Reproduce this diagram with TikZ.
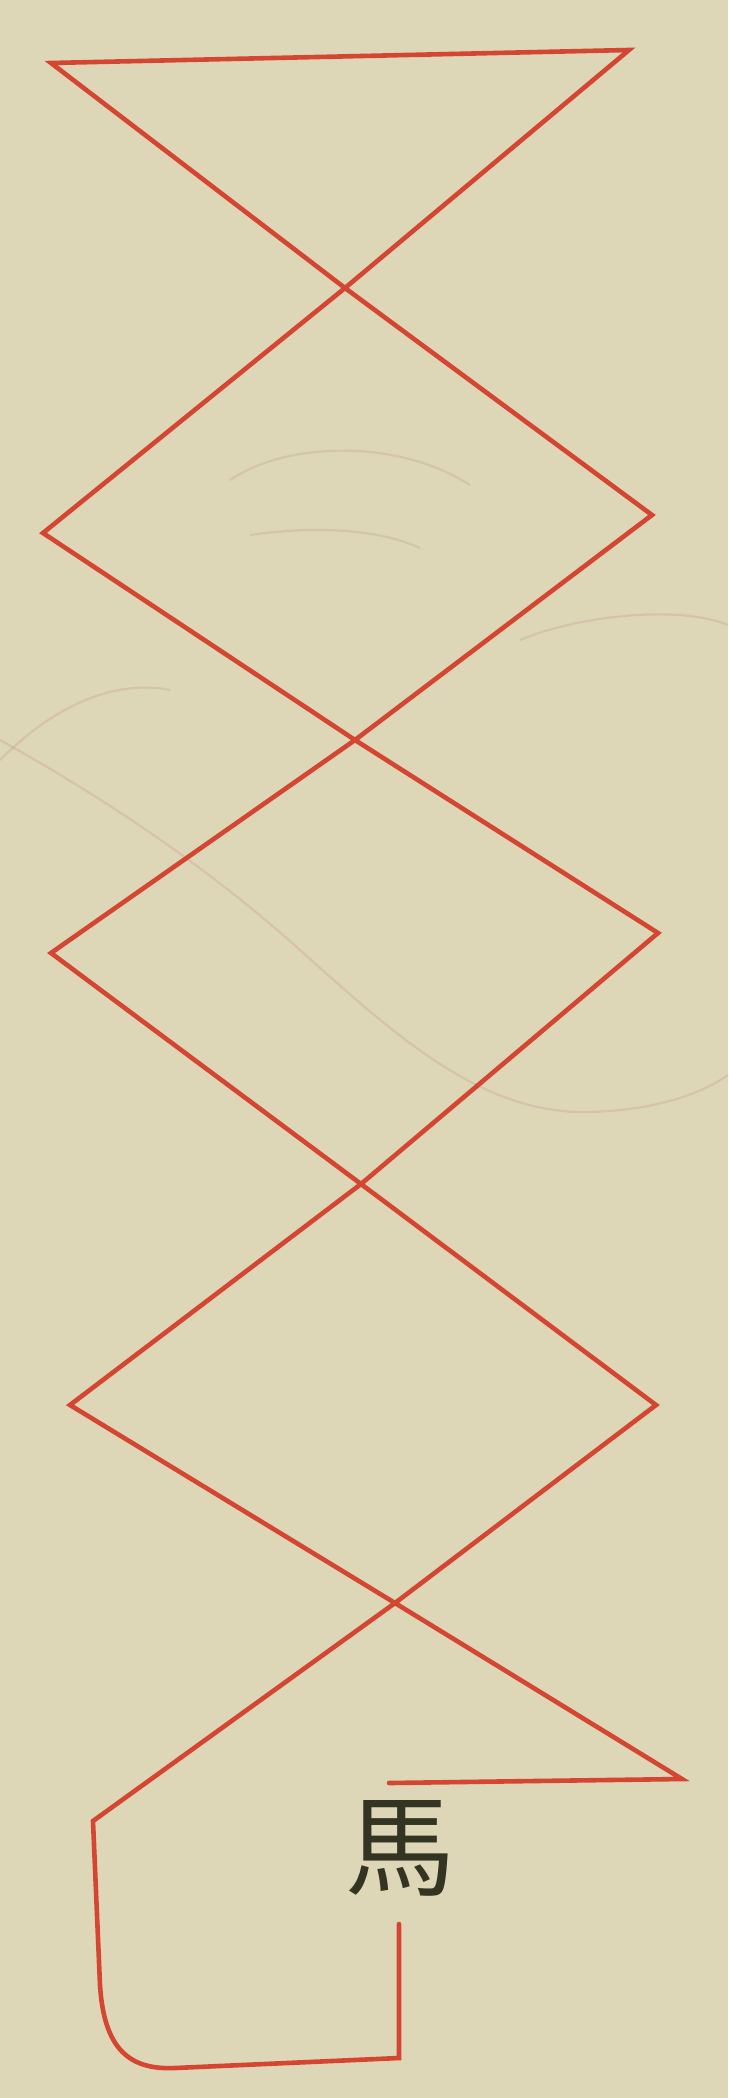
\documentclass[tikz,border=0pt]{standalone}
\usepackage{fontspec}
\newfontfamily\cjk{Noto Sans CJK TC}
\definecolor{paper}{RGB}{221,215,183}
\definecolor{ink}{RGB}{212,70,50}
\definecolor{blackink}{RGB}{52,52,34}
\definecolor{ghost}{RGB}{200,160,150}
\begin{document}
\begin{tikzpicture}[x=1pt,y=-1pt,
  redline/.style={draw=ink,line width=4.6pt,line join=miter,line cap=round},
  ghostline/.style={draw=ghost,line width=2.2pt,opacity=0.35},
  label/.style={text=blackink,font=\cjk\fontsize{110}{110}\selectfont,inner sep=0pt}]
\fill[paper] (0,0) rectangle (728,2098);
\useasboundingbox (0,0) rectangle (728,2098);
% faint bleed-through curves
\draw[ghostline] (0,740) .. controls (90,790) and (200,860) .. (300,950)
  .. controls (400,1040) and (480,1110) .. (580,1112)
  .. controls (650,1112) and (700,1095) .. (728,1075);
\draw[ghostline] (520,640) .. controls (580,615) and (680,605) .. (728,625);
\draw[ghostline] (230,480) .. controls (290,440) and (400,440) .. (470,485);
\draw[ghostline] (250,535) .. controls (320,525) and (380,530) .. (420,548);
\draw[ghostline] (0,760) .. controls (60,700) and (120,680) .. (170,690);
% named points
\coordinate (A) at (51,63);
\coordinate (B) at (629,50);
\coordinate (C1) at (345,288);
\coordinate (L1) at (43,533);
\coordinate (R1) at (652,515);
\coordinate (C2) at (355,740);
\coordinate (L2) at (51,953);
\coordinate (R2) at (658,933);
\coordinate (C3) at (361,1184);
\coordinate (L3) at (70,1405);
\coordinate (R3) at (656,1405);
\coordinate (C4) at (395,1603);
\coordinate (R4) at (682,1779);
\coordinate (H) at (389,1783);
\coordinate (LC) at (93,1821);
\coordinate (LB) at (100,1985);
\coordinate (BB) at (175,2068);
\coordinate (BR) at (399,2058);
\coordinate (TR) at (399,1924);
% the continuous red line
\draw[redline] (H) -- (R4) -- (C4) -- (L3) -- (C3) -- (R2) -- (C2) -- (L1)
  -- (C1) -- (B) -- (A) -- (C1) -- (R1) -- (C2) -- (L2) -- (C3) -- (R3)
  -- (C4) -- (LC) -- (LB) .. controls (104,2050) and (130,2070) .. (BB)
  -- (BR) -- (TR);
\node[label] (ma) at (400,1848) {馬};
\end{tikzpicture}
\end{document}
